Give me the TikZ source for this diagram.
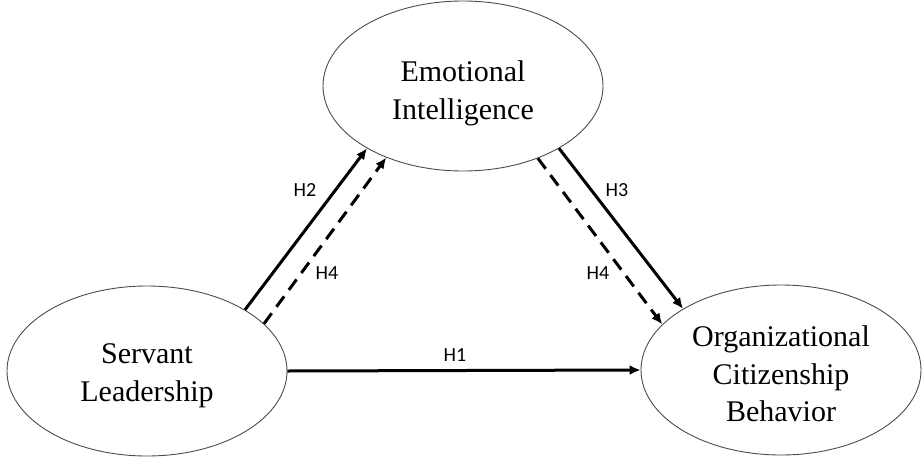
\documentclass[tikz,border=0pt]{standalone}
\usepackage{fontspec}
\setmainfont{Liberation Serif}
\newfontfamily\hypfont{Carlito}
\usetikzlibrary{shapes.geometric,arrows.meta}

\tikzset{
  construct/.style={ellipse, draw=black!70, line width=0.9pt, inner sep=0pt,
    minimum width=280pt, minimum height=170pt, align=center,
    font=\fontsize{30}{37.5}\selectfont},
  hyp/.style={font=\hypfont\fontsize{20}{24}\selectfont, inner sep=0pt},
  link/.style={line width=3pt, -{Latex[length=11pt,width=10pt]}},
  medlink/.style={link, dash pattern=on 13pt off 8pt}
}
% pushes the text of a construct down a little
\newcommand{\lowerby}[1]{\rule{0pt}{\dimexpr 21pt+2\dimexpr #1\relax\relax}}

\begin{document}
\begin{tikzpicture}[x=1pt, y=-1pt]
  \useasboundingbox (0,0) rectangle (923,466);

  % constructs
  \node[construct] (EI)  at (463,86)  {\lowerby{7pt}Emotional\\Intelligence};
  \node[construct] (SL)  at (147,371) {\lowerby{4pt}Servant\\Leadership};
  \node[construct] (OCB) at (781,370) {\lowerby{4pt}Organizational\\Citizenship\\Behavior};

  % paths
  \draw[link] (SL.east) -- (OCB.west);
  \draw[link] (SL.32) -- (EI.213);
  \draw[medlink] (SL.22) -- (EI.223);
  \draw[link] (EI.327) -- (OCB.148);
  \draw[medlink] (EI.316) -- (OCB.159);

  % hypotheses
  \node[hyp] (h1)  at (455,355) {H1};
  \node[hyp] (h2)  at (305,190) {H2};
  \node[hyp] (h4a) at (327,273) {H4};
  \node[hyp] (h3)  at (617,190) {H3};
  \node[hyp] (h4b) at (598,273) {H4};
\end{tikzpicture}
\end{document}
